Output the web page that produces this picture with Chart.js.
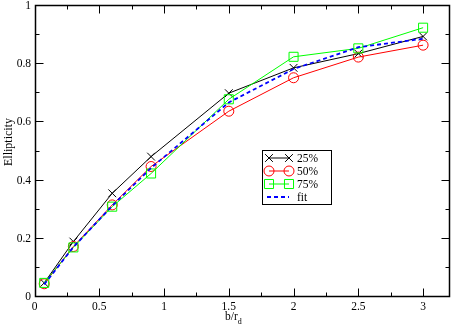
<!DOCTYPE html>
<html>
<head>
<meta charset="utf-8">
<script src="https://cdn.jsdelivr.net/npm/chart.js@4/dist/chart.umd.min.js"></script>
<style>
html,body{margin:0;padding:0;background:#fff;}
canvas{display:block;}
</style>
</head>
<body>
<canvas id="c" width="453" height="327"></canvas>
<script>
const xValues = [0.075, 0.3, 0.6, 0.9, 1.5, 2, 2.5, 3];
const s25 = [0.045, 0.187, 0.353, 0.479, 0.697, 0.784, 0.833, 0.892];
const s50 = [0.042, 0.170, 0.313, 0.445, 0.635, 0.750, 0.821, 0.862];
const s75 = [0.045, 0.167, 0.307, 0.421, 0.676, 0.822, 0.851, 0.922];
const sFit = [0.040, 0.168, 0.310, 0.440, 0.665, 0.780, 0.855, 0.884];
const seriesNames = ['25%', '50%', '75%', 'fit'];
const xTicks = [0, 0.5, 1, 1.5, 2, 2.5, 3];
const xMinor = [0.25, 0.75, 1.25, 1.75, 2.25, 2.75];
const yTicks = [0, 0.2, 0.4, 0.6, 0.8, 1];
const yMinor = [0.1, 0.3, 0.5, 0.7, 0.9];
const xTitle = 'b/r';
const xTitleSub = 'd';
const yTitle = 'Ellipticity';

const FONT = '"Liberation Serif", "DejaVu Serif", serif';
const FS = 11.5;
const pts = arr => arr.map((v, i) => ({x: xValues[i], y: v}));

const frame = {
  id: 'frame',
  beforeDraw(chart) {
    const c = chart.ctx;
    c.save();
    c.fillStyle = '#fff';
    c.fillRect(0, 0, chart.width, chart.height);
    c.restore();
  },
  afterDatasetsDraw(chart) {
    const c = chart.ctx, a = chart.chartArea;
    const xs = chart.scales.x, ys = chart.scales.y;
    c.save();
    c.strokeStyle = '#000';
    c.lineWidth = 1;
    const L = Math.round(a.left) + 0.5, R = Math.round(a.right) + 0.5;
    const T = Math.round(a.top) + 0.5, B = Math.round(a.bottom) + 0.5;
    c.beginPath();
    xTicks.forEach(v => { const p = Math.round(xs.getPixelForValue(v)) + 0.5; c.moveTo(p, B); c.lineTo(p, B - 8); c.moveTo(p, T); c.lineTo(p, T + 8); });
    xMinor.forEach(v => { const p = Math.round(xs.getPixelForValue(v)) + 0.5; c.moveTo(p, B); c.lineTo(p, B - 4); c.moveTo(p, T); c.lineTo(p, T + 4); });
    yTicks.forEach(v => { const p = Math.round(ys.getPixelForValue(v)) + 0.5; c.moveTo(L, p); c.lineTo(L + 8, p); c.moveTo(R, p); c.lineTo(R - 8, p); });
    yMinor.forEach(v => { const p = Math.round(ys.getPixelForValue(v)) + 0.5; c.moveTo(L, p); c.lineTo(L + 4, p); c.moveTo(R, p); c.lineTo(R - 4, p); });
    c.stroke();
    c.lineWidth = 1.5;
    c.strokeRect(L, T, R - L, B - T);

    // tick labels
    c.fillStyle = '#000';
    c.font = FS + 'px ' + FONT;
    c.textAlign = 'center';
    c.textBaseline = 'alphabetic';
    xTicks.forEach(v => c.fillText(String(v), xs.getPixelForValue(v), 310));
    c.textAlign = 'right';
    c.textBaseline = 'middle';
    yTicks.forEach(v => c.fillText(String(v), 31, ys.getPixelForValue(v) + 1));

    // axis titles
    c.textBaseline = 'alphabetic';
    c.textAlign = 'left';
    c.font = FS + 'px ' + FONT;
    const wMain = c.measureText(xTitle).width;
    const sx = 225;
    c.fillText(xTitle, sx, 320);
    c.font = '8px ' + FONT;
    c.fillText(xTitleSub, sx + wMain, 323.5);
    c.font = '12px ' + FONT;
    c.translate(11.5, 142);
    c.rotate(-Math.PI / 2);
    c.textAlign = 'center';
    c.fillText(yTitle, 0, 0);
    c.restore();

    // legend
    c.save();
    const bx = 262.5, by = 150.5, bw = 69, bh = 54;
    c.fillStyle = '#fff';
    c.fillRect(bx, by, bw, bh);
    c.strokeStyle = '#000';
    c.lineWidth = 1;
    c.strokeRect(bx, by, bw, bh);
    chart.data.datasets.forEach((ds, i) => {
      const y = 158 + i * 13;
      const x1 = 269, x2 = 289;
      c.save();
      c.strokeStyle = ds.borderColor;
      c.lineWidth = ds.borderWidth;
      c.setLineDash(ds.borderDash || []);
      c.beginPath();
      if (ds.pointRadius > 0) { c.moveTo(x1, y); c.lineTo(x2, y); }
      else { c.moveTo(x1 - 2, y); c.lineTo(x2, y); }
      c.stroke();
      c.restore();
      if (ds.pointRadius > 0) {
        const opt = {pointStyle: ds.pointStyle, radius: ds.pointRadius, rotation: 0, borderWidth: 1};
        c.save();
        c.strokeStyle = ds.borderColor;
        c.fillStyle = 'rgba(0,0,0,0)';
        c.lineWidth = 1;
        Chart.helpers.drawPoint(c, opt, x1, y);
        Chart.helpers.drawPoint(c, opt, x2, y);
        c.restore();
      }
      c.fillStyle = '#000';
      c.font = FS + 'px ' + FONT;
      c.textAlign = 'left';
      c.textBaseline = 'middle';
      c.fillText(seriesNames[i], 297, y + 0.5);
    });
    c.restore();
  }
};

new Chart(document.getElementById('c'), {
  type: 'scatter',
  data: {
    datasets: [
      {label: seriesNames[0], data: pts(s25), showLine: true, borderColor: '#000000', backgroundColor: 'rgba(0,0,0,0)', borderWidth: 1, pointStyle: 'crossRot', pointRadius: 5.5, pointBorderWidth: 1, order: 3},
      {label: seriesNames[1], data: pts(s50), showLine: true, borderColor: '#ff0000', backgroundColor: 'rgba(0,0,0,0)', borderWidth: 1, pointStyle: 'circle', pointRadius: 5, pointBorderWidth: 1, order: 2},
      {label: seriesNames[2], data: pts(s75), showLine: true, borderColor: '#00ff00', backgroundColor: 'rgba(0,0,0,0)', borderWidth: 1, pointStyle: 'rect', pointRadius: 6.4, pointBorderWidth: 1, order: 1},
      {label: seriesNames[3], data: pts(sFit), showLine: true, borderColor: '#0000ff', backgroundColor: 'rgba(0,0,0,0)', borderWidth: 1.8, borderDash: [4, 3], pointRadius: 0, order: 0}
    ]
  },
  options: {
    responsive: false,
    animation: false,
    events: [],
    layout: {autoPadding: false, padding: {top: 5, right: 4, left: 0, bottom: 0}},
    plugins: {legend: {display: false}, tooltip: {enabled: false}},
    scales: {
      x: {
        type: 'linear', min: 0, max: 3.2,
        afterBuildTicks: s => { s.ticks = xTicks.map(v => ({value: v})); },
        afterFit: s => { s.height = 31; },
        grid: {display: false}, border: {display: false},
        ticks: {display: false}
      },
      y: {
        type: 'linear', min: 0, max: 1,
        afterBuildTicks: s => { s.ticks = yTicks.map(v => ({value: v})); },
        afterFit: s => { s.width = 34.5; },
        grid: {display: false}, border: {display: false},
        ticks: {display: false}
      }
    }
  },
  plugins: [frame]
});
</script>
</body>
</html>
